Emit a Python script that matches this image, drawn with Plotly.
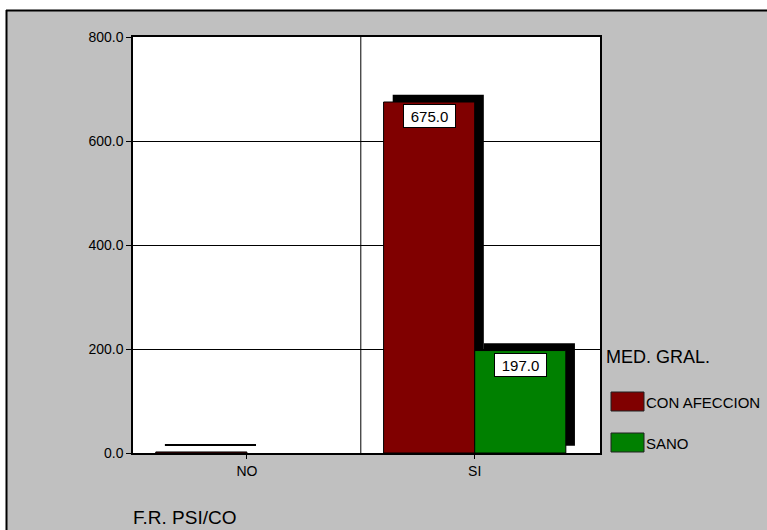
import plotly.graph_objects as go

# ---- data ----
categories = ["NO", "SI"]
con_afeccion = [2.0, 675.0]
sano = [0.0, 197.0]
series_names = ["CON AFECCION", "SANO"]
y_ticks = [0, 200, 400, 600, 800]
x_title = "F.R. PSI/CO"
legend_title = "MED. GRAL."

# ---- styles ----
W, H = 767, 530
ML, MR, MT, MB = 133, 167, 37, 77
PW, PH = W - ML - MR, H - MT - MB
RED = "#800000"
GREEN = "#008000"
GRAY = "#c0c0c0"
FONT = "Liberation Sans, Arial, sans-serif"
BAR_W = 0.4
SH_DX = 0.04      # shadow shift in category units
SH_BASE = 14      # shadow lift in value units


def px(x):
    return (x - ML) / PW


def py(y):
    return (H - MB - y) / PH


def nz(vals):
    return [v if v > 0 else None for v in vals]


xpos = list(range(len(categories)))

fig = go.Figure()

# shadows
for vals, off in ((con_afeccion, -BAR_W), (sano, 0.0)):
    fig.add_trace(go.Bar(
        x=xpos, y=nz(vals), base=SH_BASE,
        offset=off + SH_DX, width=BAR_W,
        marker=dict(color="black", line=dict(width=0)),
        hoverinfo="skip", showlegend=False))

# main bars
for vals, off, col, name in ((con_afeccion, -BAR_W, RED, series_names[0]),
                             (sano, 0.0, GREEN, series_names[1])):
    fig.add_trace(go.Bar(
        x=xpos, y=nz(vals), offset=off, width=BAR_W, name=name,
        marker=dict(color=col, line=dict(color="black", width=1)),
        showlegend=False))

annotations = []
# value labels
for vals, off in ((con_afeccion, -BAR_W / 2), (sano, BAR_W / 2)):
    for i, v in enumerate(vals):
        if v < 50:
            continue
        annotations.append(dict(
            x=xpos[i] + off, y=v, xref="x", yref="y",
            text=f"{v:.1f}", showarrow=False, yanchor="top", yshift=-2,
            font=dict(family=FONT, size=15, color="black"),
            bgcolor="white", bordercolor="black", borderwidth=1,
            width=51, height=22, borderpad=0))

# titles / legend text
annotations.append(dict(x=px(604), y=py(357), xref="paper", yref="paper",
                        text=legend_title, showarrow=False, xanchor="left",
                        yanchor="middle",
                        font=dict(family=FONT, size=18, color="black")))
annotations.append(dict(x=px(131), y=py(517), xref="paper", yref="paper",
                        text=x_title, showarrow=False, xanchor="left",
                        yanchor="middle",
                        font=dict(family=FONT, size=19, color="black")))

shapes = []
legend_rows = [(series_names[0], RED, 392, 411), (series_names[1], GREEN, 433, 452)]
for name, col, y0, y1 in legend_rows:
    shapes.append(dict(type="rect", xref="paper", yref="paper",
                       x0=px(611), x1=px(644), y0=py(y1), y1=py(y0),
                       fillcolor=col, line=dict(color="#202020", width=1)))
    annotations.append(dict(x=px(644), y=py((y0 + y1) / 2 + 1), xref="paper",
                            yref="paper", text=name, showarrow=False,
                            xanchor="left", yanchor="middle",
                            font=dict(family=FONT, size=15, color="black")))

# category divider (vertical grid line)
shapes.append(dict(type="line", xref="x", yref="paper", x0=0.5, x1=0.5,
                   y0=0, y1=1, line=dict(color="black", width=1), layer="above"))

# white outside strips & black frame of the chart panel
shapes.append(dict(type="rect", xref="paper", yref="paper",
                   x0=px(-5), x1=px(W + 5), y0=py(10), y1=py(-5),
                   fillcolor="white", line=dict(width=0)))
shapes.append(dict(type="rect", xref="paper", yref="paper",
                   x0=px(-5), x1=px(6), y0=py(H + 5), y1=py(-5),
                   fillcolor="white", line=dict(width=0)))
shapes.append(dict(type="line", xref="paper", yref="paper",
                   x0=px(6), x1=px(W + 5), y0=py(10.5), y1=py(10.5),
                   line=dict(color="black", width=2)))
shapes.append(dict(type="line", xref="paper", yref="paper",
                   x0=px(6.5), x1=px(6.5), y0=py(10), y1=py(H + 5),
                   line=dict(color="black", width=2)))

fig.update_layout(
    width=W, height=H,
    margin=dict(l=ML, r=MR, t=MT, b=MB, pad=0),
    paper_bgcolor=GRAY, plot_bgcolor="white",
    barmode="overlay",
    font=dict(family=FONT, size=14, color="black"),
    annotations=annotations, shapes=shapes,
    showlegend=False,
    xaxis=dict(range=[-0.5, 1.55], tickvals=xpos, ticktext=categories,
               showgrid=False, zeroline=False, showline=True, mirror=True,
               linecolor="black", linewidth=1.5, ticks="outside", ticklen=4,
               tickcolor="black", tickfont=dict(size=14, family=FONT),
               fixedrange=True),
    yaxis=dict(range=[0, 800], tickvals=y_ticks, tickformat=".1f",
               showgrid=True, gridcolor="black", gridwidth=1, zeroline=False,
               showline=True, mirror=True, linecolor="black", linewidth=1.5,
               ticks="outside", ticklen=5, tickcolor="black",
               tickfont=dict(size=14, family=FONT), fixedrange=True),
)

fig.write_html("out.html")
